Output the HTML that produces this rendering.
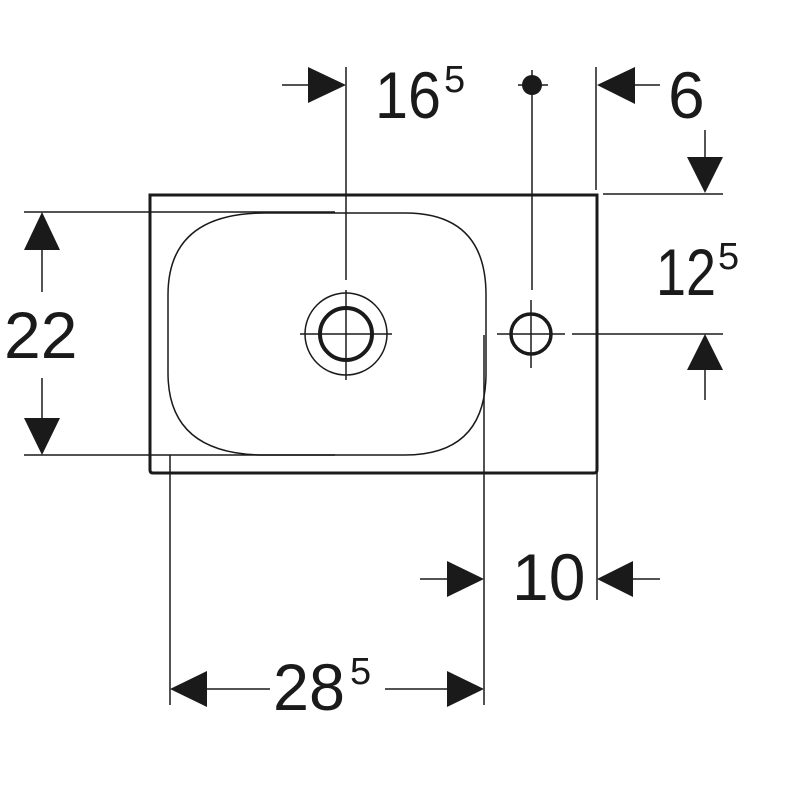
<!DOCTYPE html>
<html><head><style>body{margin:0;background:#fff}svg{display:block}</style></head><body>
<svg width="800" height="800" viewBox="0 0 800 800" xmlns="http://www.w3.org/2000/svg" font-family="Liberation Sans, sans-serif" fill="#1a1a1a">
<g stroke="#1a1a1a" fill="none">
<path d="M150 195 H597 V470 Q597 473 594 473 H153 Q150 473 150 470 Z" stroke-width="3"/>
<path d="M265 213 H405 Q486 213 486 295 V373 Q486 455 405 455 H265 Q168 455 168 373 V295 Q168 213 265 213 Z" stroke-width="1.5"/>
<circle cx="346" cy="334" r="41" stroke-width="1.5"/>
<circle cx="346" cy="334" r="26" stroke-width="4"/>
<circle cx="531" cy="334" r="20" stroke-width="3.5"/>
<g stroke-width="1.5">
<line x1="346" y1="67" x2="346" y2="280"/>
<line x1="346" y1="290" x2="346" y2="380"/>
<line x1="300" y1="334" x2="392" y2="334"/>
<line x1="532" y1="70" x2="532" y2="290"/>
<line x1="531" y1="300" x2="531" y2="368"/>
<line x1="497" y1="334" x2="565" y2="334"/>
<line x1="572" y1="334" x2="723" y2="334"/>
<line x1="518" y1="85" x2="548" y2="85"/>
<line x1="596" y1="67" x2="596" y2="190"/>
<line x1="597" y1="473" x2="597" y2="600"/>
<line x1="603" y1="194" x2="723" y2="194"/>
<line x1="24" y1="212" x2="335" y2="212"/>
<line x1="24" y1="455" x2="335" y2="455"/>
<line x1="170" y1="455" x2="170" y2="705"/>
<line x1="484" y1="335" x2="484" y2="705"/>
<line x1="282" y1="85" x2="310" y2="85"/>
<line x1="633" y1="85" x2="660" y2="85"/>
<line x1="705" y1="130" x2="705" y2="160"/>
<line x1="705" y1="368" x2="705" y2="400"/>
<line x1="42" y1="245" x2="42" y2="292"/>
<line x1="42" y1="378" x2="42" y2="420"/>
<line x1="420" y1="579" x2="450" y2="579"/>
<line x1="630" y1="579" x2="660" y2="579"/>
<line x1="205" y1="689" x2="270" y2="689"/>
<line x1="385" y1="689" x2="450" y2="689"/>
</g></g>
<circle cx="532" cy="85" r="10"/>
<polygon points="346,85 308,67 308,103"/>
<polygon points="597,85 635,67 635,104"/>
<polygon points="705,193 687,157 723,157"/>
<polygon points="705,334 687,370 723,370"/>
<polygon points="42,212 24,250 60,250"/>
<polygon points="42,455 24,418 60,418"/>
<polygon points="484,579 447,561 447,597"/>
<polygon points="597,579 633,561 633,597"/>
<polygon points="170,689 207,671 207,707"/>
<polygon points="484,689 447,671 447,707"/>
<g font-size="66">
<text x="375" y="118" textLength="66" lengthAdjust="spacingAndGlyphs">16</text><text x="444" y="92" font-size="38">5</text>
<text x="668" y="118">6</text>
<text x="656" y="295" textLength="60" lengthAdjust="spacingAndGlyphs">12</text><text x="718" y="269" font-size="38">5</text>
<text x="4" y="358">22</text>
<text x="512" y="600">10</text>
<text x="273" y="710" textLength="72" lengthAdjust="spacingAndGlyphs">28</text><text x="350" y="684" font-size="38">5</text>
</g>
</svg>
</body></html>
